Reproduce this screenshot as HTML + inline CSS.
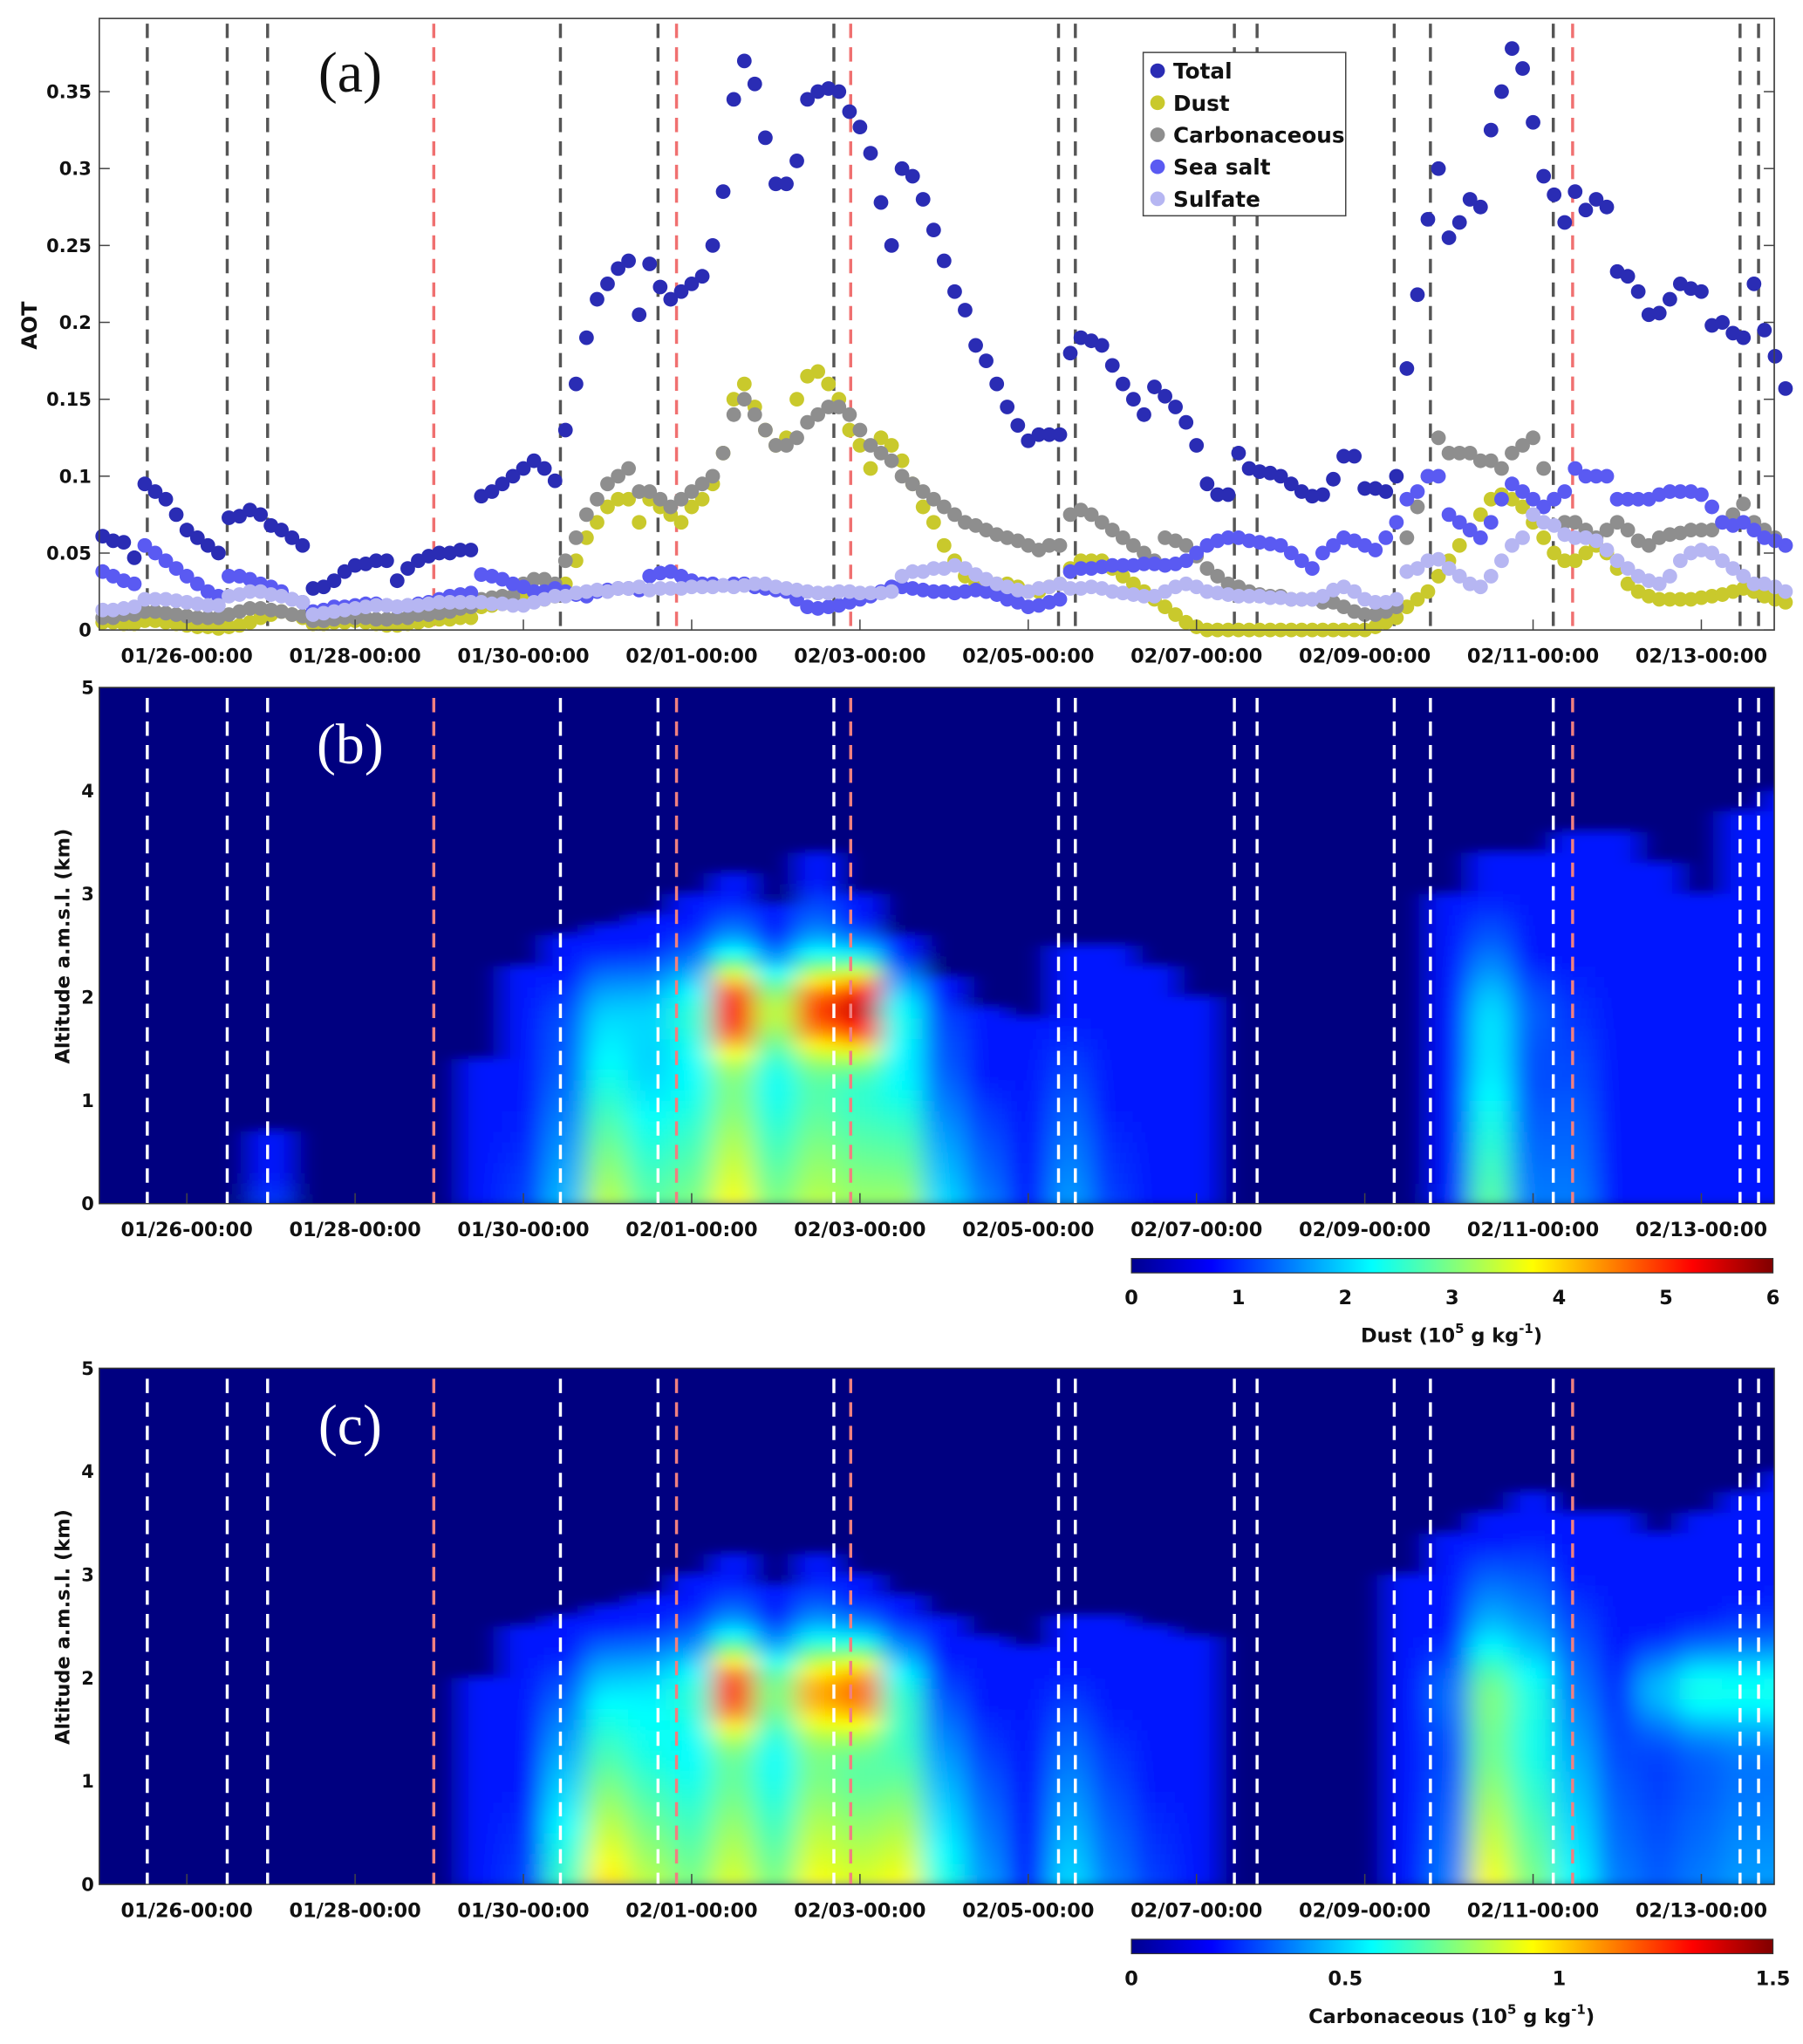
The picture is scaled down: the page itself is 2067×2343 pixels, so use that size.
<!DOCTYPE html>
<html><head><meta charset="utf-8"><style>
html,body{margin:0;padding:0;background:#fff}
svg{display:block}
text{font-family:"DejaVu Sans","Liberation Sans",sans-serif;font-weight:bold;fill:#111}
</style></head><body>
<svg id="chart" xmlns="http://www.w3.org/2000/svg" width="2067" height="2343" viewBox="0 0 1380 1564">
<defs>
<filter id="blurB" x="-5%" y="-5%" width="110%" height="110%"><feGaussianBlur stdDeviation="10 4"/></filter>
<clipPath id="clipB"><rect x="76" y="526" width="1282" height="395"/></clipPath>
<clipPath id="clipC"><rect x="76" y="1047" width="1282" height="395"/></clipPath>
<linearGradient id="jetGrad" x1="0" x2="1" y1="0" y2="0">
<stop offset="0" stop-color="#00008f"/><stop offset="0.125" stop-color="#0000ff"/><stop offset="0.375" stop-color="#00ffff"/><stop offset="0.625" stop-color="#ffff00"/><stop offset="0.875" stop-color="#ff0000"/><stop offset="1" stop-color="#800000"/>
</linearGradient>
</defs>
<g id="layer"></g>
</svg>
<script>
// ---------- data ----------
const startLabel = "01/25-00:00"; // series start, 3-hourly
const totalAOT = [.061,.058,.057,.047,.095,.090,.085,.075,.065,.060,.055,.050,.073,.074,.078,.075,.068,.065,.060,.055,
.027,.028,.032,.038,.042,.043,.045,.045,.032,.040,.045,.048,.050,.050,.052,.052,
.087,.09,.095,.10,.105,.11,.105,.097,
.13,.16,.19,.215,.225,.235,.24,.205,.238,.223,.215,.22,.225,.23,.25,.285,
.345,.37,.355,.32,.29,.29,.305,.345,.35,.352,.35,.337,.327,.31,.278,.25,
.30,.295,.28,.26,.24,.22,.208,.185,.175,.16,.145,.133,.123,.127,.127,.127,
.18,.19,.188,.185,.172,.16,.15,.14,.158,.152,.145,.135,.12,.095,.088,.088,
.115,.105,.103,.102,.1,.095,.09,.087,.088,.098,.113,.113,.092,.092,.09,.1,
.17,.218,.267,.3,.255,.265,.28,.275,.325,.35,.378,.365,.33,.295,.283,.265,
.285,.273,.28,.275,.233,.23,.22,.205,.206,.215,.225,.222,.22,.198,.2,.193,.19,.225,.195,.178,.157];
const dustAOT = [.005,.005,.004,.004,.006,.006,.005,.004,.003,.002,.002,.001,.002,.003,.005,.008,.01,.012,.01,.008,
.004,.004,.005,.005,.006,.005,.004,.003,.003,.004,.005,.006,.007,.007,.008,.008,
.015,.016,.017,.018,.02,.022,.02,.022,
.03,.045,.06,.07,.08,.085,.085,.07,.085,.08,.075,.07,.08,.085,.095,.115,
.15,.16,.145,.13,.12,.125,.15,.165,.168,.16,.15,.13,.12,.105,.125,.12,
.11,.095,.08,.07,.055,.045,.035,.03,.03,.03,.03,.028,.025,.025,.028,.03,
.04,.045,.045,.045,.04,.035,.03,.025,.02,.015,.01,.005,.002,0,0,0,
0,0,0,0,0,0,0,0,0,0,0,0,0,.002,.005,.008,
.015,.02,.025,.035,.045,.055,.065,.075,.085,.088,.085,.08,.07,.06,.05,.045,
.045,.05,.055,.05,.04,.03,.025,.022,.02,.02,.02,.02,.021,.022,.023,.025,.027,.025,.022,.02,.018];
const carbAOT = [.008,.008,.01,.01,.012,.012,.011,.01,.009,.008,.008,.008,.01,.012,.014,.014,.013,.012,.01,.009,
.006,.006,.007,.008,.008,.008,.007,.007,.008,.008,.01,.01,.011,.012,.014,.015,
.02,.021,.022,.022,.03,.033,.033,.03,
.045,.06,.075,.085,.095,.10,.105,.09,.09,.085,.08,.085,.09,.095,.10,.115,
.14,.15,.14,.13,.12,.12,.125,.135,.14,.145,.145,.14,.13,.12,.115,.11,
.10,.095,.09,.085,.08,.075,.07,.068,.065,.062,.06,.058,.055,.052,.055,.055,
.075,.078,.075,.07,.065,.06,.055,.05,.045,.06,.058,.055,.048,.04,.035,.03,
.028,.025,.023,.022,.022,.02,.02,.02,.018,.018,.015,.012,.01,.01,.012,.015,
.06,.08,.1,.125,.115,.115,.115,.11,.11,.105,.115,.12,.125,.105,.085,.07,
.07,.065,.06,.065,.07,.065,.058,.055,.06,.062,.063,.065,.065,.065,.07,.075,.082,.07,.065,.06,.055];
const seaSaltAOT = [.038,.035,.032,.03,.055,.05,.045,.04,.035,.03,.025,.022,.035,.035,.033,.03,.028,.025,.02,.018,
.012,.013,.015,.015,.016,.017,.017,.016,.015,.016,.017,.018,.02,.022,.023,.024,
.036,.035,.033,.03,.028,.025,.025,.027,
.025,.023,.022,.025,.026,.027,.027,.026,.035,.037,.038,.035,.032,.03,.03,.029,
.03,.03,.028,.027,.026,.025,.02,.015,.014,.015,.016,.018,.02,.022,.025,.028,
.028,.027,.026,.025,.025,.024,.025,.026,.025,.023,.02,.018,.015,.016,.018,.02,
.038,.04,.04,.041,.042,.042,.042,.043,.043,.042,.043,.045,.05,.055,.058,.06,
.06,.058,.057,.056,.055,.05,.045,.04,.05,.055,.06,.058,.055,.052,.06,.07,
.085,.09,.1,.1,.075,.07,.065,.06,.07,.085,.095,.09,.085,.08,.085,.09,
.105,.1,.1,.1,.085,.085,.085,.085,.088,.09,.09,.09,.088,.08,.07,.068,.07,.065,.06,.058,.055];
const sulfateAOT = [.013,.013,.014,.015,.02,.02,.02,.019,.018,.017,.016,.016,.022,.023,.025,.025,.023,.022,.02,.018,
.01,.011,.012,.013,.014,.015,.016,.016,.015,.016,.016,.017,.018,.018,.018,.018,
.018,.017,.017,.016,.016,.018,.02,.022,
.022,.024,.025,.026,.025,.027,.027,.028,.026,.027,.027,.027,.028,.028,.028,.029,
.028,.029,.03,.03,.028,.027,.026,.025,.024,.024,.025,.025,.024,.024,.024,.025,
.035,.038,.038,.04,.04,.042,.04,.036,.033,.03,.028,.026,.025,.027,.028,.03,
.027,.027,.028,.027,.025,.024,.023,.022,.022,.025,.028,.03,.028,.025,.024,.023,
.022,.022,.022,.021,.021,.02,.02,.02,.022,.026,.028,.025,.02,.018,.018,.02,
.038,.04,.045,.046,.04,.035,.03,.028,.035,.045,.055,.06,.075,.07,.068,.062,
.06,.06,.058,.052,.045,.04,.035,.032,.03,.035,.045,.05,.052,.05,.045,.04,.035,.03,.03,.028,.025];
const seriesNames = ["Total","Dust","Carbonaceous","Sea salt","Sulfate"];
const seriesColors = ["#2a2cb4","#c9c92c","#8e8e8e","#5a5af2","#b6b6f2"];
const dateTicks = ["01/26-00:00","01/28-00:00","01/30-00:00","02/01-00:00","02/03-00:00","02/05-00:00","02/07-00:00","02/09-00:00","02/11-00:00","02/13-00:00"];
const aotTicks = [0,0.05,0.1,0.15,0.2,0.25,0.3,0.35];
const altTicks = [0,1,2,3,4,5];
// event lines, days since 01/26-00:00
const greyEvents = [-0.47,0.48,0.96,4.44,5.6,7.69,10.36,10.56,12.45,12.72,14.35,14.78,16.24,18.46,18.68];
const redEvents = [2.935,5.82,7.89,16.47];
// profiles: 12-hourly columns starting 01/25-00:00
const dustSurf = [0,0,0,0,0.8,0,0,0,0,0.5,0.8,1.6,3.2,2.6,2.8,3.6,2.8,3.2,3.0,3.0,1.8,1.2,0.5,1.4,0.8,0.5,0.2,0,0,0,0,0,0.6,2.6,1.2,1.2,0.4,0.2,0.15,0.2,0.2];
const dustPeak = [0,0,0,0,0,0,0,0,0,0,0,0.2,0.3,0.5,0.8,3.2,1.8,3.0,4.0,0.8,0.3,0,0,0,0,0,0,0,0,0,0,0,0,0.3,0.3,0,0,0,0,0.3,0.3];
const dustTop = [0,0,0,0,0.7,0,0,0,0,1.4,2.3,2.6,2.7,2.8,3.0,3.2,2.9,3.4,3.0,2.6,2.2,1.9,1.8,2.5,2.5,2.3,2.0,0,0,0,0,0,3.0,3.4,3.4,3.6,3.6,3.3,3.0,3.8,4.0];
const carbSurf = [0,0,0,0,0,0,0,0,0,0.1,0.2,0.6,0.95,0.8,0.7,0.85,0.7,0.9,0.85,0.9,0.55,0.35,0.15,0.45,0.3,0.2,0.1,0,0,0,0,0,0.3,0.9,0.7,0.5,0.3,0.25,0.3,0.35,0.35];
const carbPeak = [0,0,0,0,0,0,0,0,0,0,0,0,0.05,0.1,0.2,0.75,0.35,0.55,0.7,0.15,0,0,0,0,0,0,0,0,0,0,0,0,0.1,0.15,0.1,0,0,0.25,0.35,0.3,0.3];
const carbTop = [0,0,0,0,0,0,0,0,0,2.0,2.5,2.6,2.7,2.8,3.0,3.2,2.9,3.2,3.0,2.8,2.6,2.4,2.3,2.6,2.6,2.5,2.4,0,0,0,0,3.0,3.4,3.6,3.8,3.6,3.6,3.4,3.6,3.8,4.0];
const dustCbTicks = [0,1,2,3,4,5,6];
const carbCbTicks = [0,0.5,1,1.5];

// ---------- helpers ----------
const NS="http://www.w3.org/2000/svg";
const root=document.getElementById('layer');
function mk(tag,attrs,parent){const e=document.createElementNS(NS,tag);for(const k in attrs)e.setAttribute(k,attrs[k]);(parent||root).appendChild(e);return e;}
const X0=76,X1=1358;
const PXDAY=64.4, DAY0X=143;
function xDay(d){return DAY0X+d*PXDAY;}
function xIdx3h(i){return xDay(-1+i*0.125);}
function xIdx12h(i){return xDay(-1+i*0.5);}
const A_T=14,A_B=482;
function yAOT(v){return A_B-v/0.35*(A_B-70);}
function yAlt(z,top,bot){return bot-z/5*(bot-top);}
function jet(t){t=Math.max(0,Math.min(1,t));
 const r=Math.min(1,Math.max(0,Math.min(4*t-1.5,-4*t+4.5)));
 const g=Math.min(1,Math.max(0,Math.min(4*t-0.5,-4*t+3.5)));
 const b=Math.min(1,Math.max(0,Math.min(4*t+0.5,-4*t+2.5)));
 return `rgb(${Math.round(r*255)},${Math.round(g*255)},${Math.round(b*255)})`;}

// ---------- panel a ----------
const pa=mk('g',{});


const frameA=mk('rect',{x:X0,y:A_T,width:X1-X0,height:A_B-A_T,fill:'#fff',stroke:'#444','stroke-width':1},pa);


function eventLines(parent,top,bot,greyCol,redCol,off){
 greyEvents.forEach(d=>{const l=mk('line',{x1:xDay(d),x2:xDay(d),y1:top+off,y2:bot,stroke:greyCol,'stroke-width':2.3,'stroke-dasharray':'11 7'},parent);
  
  });
 redEvents.forEach(d=>{const l=mk('line',{x1:xDay(d),x2:xDay(d),y1:top+off,y2:bot,stroke:redCol,'stroke-width':2.3,'stroke-dasharray':'11 7'},parent);
  
  });
}
eventLines(pa,A_T,A_B,'#555','#f07070',4);
const allSeries=[totalAOT,dustAOT,carbAOT,seaSaltAOT,sulfateAOT];
allSeries.forEach((arr,s)=>{
 const g=mk('g',{fill:seriesColors[s]},pa);
 
 
 arr.forEach((v,i)=>{const c=mk('circle',{cx:xIdx3h(i).toFixed(1),cy:yAOT(v).toFixed(1),r:5.6},g);
  
  });
});
mk('rect',{x:X0,y:A_T,width:X1-X0,height:A_B-A_T,fill:'none',stroke:'#444','stroke-width':1},pa);
aotTicks.forEach(v=>{const y=yAOT(v);
 mk('line',{x1:X0,x2:X0+8,y1:y,y2:y,stroke:'#444'},pa);mk('line',{x1:X1,x2:X1-8,y1:y,y2:y,stroke:'#444'},pa);
 const t=mk('text',{x:70,y:y+5,'text-anchor':'end','font-size':14},pa);t.textContent=String(v);
 
 });
function dateLabels(parent,y,top,bot){dateTicks.forEach((s,j)=>{const x=xDay(2*j);
 mk('line',{x1:x,x2:x,y1:bot,y2:bot-8,stroke:'#444'},parent);
 const t=mk('text',{x:x,y:y,'text-anchor':'middle','font-size':15,textLength:101,lengthAdjust:'spacingAndGlyphs'},parent);t.textContent=s;
 
 });}
dateLabels(pa,507,A_T,A_B);
const ya=mk('text',{x:0,y:0,'font-size':16,'text-anchor':'middle',transform:'translate(28,249) rotate(-90)'},pa);ya.textContent='AOT';


const la=mk('text',{x:268,y:70,'font-size':44,'text-anchor':'middle',style:'font-family:"Liberation Serif",serif;font-weight:normal'},pa);la.textContent='(a)';


const leg=mk('g',{},pa);


mk('rect',{x:875,y:40,width:155,height:125,fill:'#fff',stroke:'#444'},leg);
seriesNames.forEach((n,i)=>{const y=54+i*24.5;
 const c=mk('circle',{cx:886,cy:y,r:5.6,fill:seriesColors[i]},leg);
 
 
 const t=mk('text',{x:898,y:y+6,'font-size':16.5},leg);t.textContent=n;
 
 });

// ---------- contour panels ----------
function contourPanel(name,top,surf,peak,tops,vmax,clipId,letter,cbTicks,cbTitle,cbY){
 const bot=top+395;
 const p=mk('g',{});
 
 
 const field=mk('g',{'clip-path':`url(#${clipId})`},p);
 const inner=mk('g',{filter:'url(#blurB)'},field);
 mk('rect',{x:X0-30,y:top-30,width:X1-X0+60,height:455,fill:jet(0)},inner);
 const dz=0.1;
 for(let k=0;k<surf.length;k++){
  const xc=xIdx12h(k);const tp=tops[k];
  for(let z=0;z<5;z+=dz){
   const zc=z+dz/2;let v=0;
   if(tp>0&&zc<tp){
    v=surf[k]*Math.pow(1-zc/tp,0.7)+peak[k]*Math.exp(-Math.pow((zc-1.9)/0.45,2));
    v=Math.max(v,vmax*0.09);
   }
   if(v<=0.0001) continue;
   const r=mk('rect',{x:(xc-16.5).toFixed(1),y:yAlt(z+dz,top,bot).toFixed(1),width:33,height:(395*dz/5+0.5).toFixed(1),fill:jet(0.06+0.94*v/vmax)},inner);
   
   
  }
 }
 eventLines(p,top,bot,'#fff','#f08080',8);
 mk('rect',{x:X0,y:top,width:X1-X0,height:395,fill:'none',stroke:'#333','stroke-width':1},p);
 altTicks.forEach(v=>{const y=yAlt(v,top,bot);
  const t=mk('text',{x:72,y:y+5,'text-anchor':'end','font-size':14},p);t.textContent=String(v);
  
  });
 dateLabels(p,bot+25,top,bot);
 const yt=mk('text',{x:0,y:0,'font-size':15,'text-anchor':'middle',transform:`translate(53,${top+198}) rotate(-90)`},p);yt.textContent='Altitude a.m.s.l. (km)';
 
 
 const lb=mk('text',{x:268,y:top+58,'font-size':44,'text-anchor':'middle',style:'font-family:"Liberation Serif",serif;font-weight:normal;fill:#fff'},p);lb.textContent=letter;
 
 
 const cb=mk('g',{},p);
 
 
 mk('rect',{x:866,y:cbY,width:491,height:11,fill:'url(#jetGrad)',stroke:'#333','stroke-width':0.8},cb);
 const cmax=cbTicks[cbTicks.length-1];
 cbTicks.forEach(v=>{const x=866+491*v/cmax;
  const t=mk('text',{x:x,y:cbY+35,'text-anchor':'middle','font-size':15},cb);t.textContent=String(v);
  
  });
 const ct=mk('text',{x:1111,y:cbY+64,'text-anchor':'middle','font-size':15},cb);
 ct.innerHTML=cbTitle+' (10<tspan dy="-7" font-size="10">5</tspan><tspan dy="7"> g kg</tspan><tspan dy="-7" font-size="10">-1</tspan><tspan dy="7">)</tspan>';
 
 
}
contourPanel('panel-b-dust',526,dustSurf,dustPeak,dustTop,6,'clipB','(b)',dustCbTicks,'Dust',963);
contourPanel('panel-c-carbonaceous',1047,carbSurf,carbPeak,carbTop,1.5,'clipC','(c)',carbCbTicks,'Carbonaceous',1484);
</script>
</body></html>
